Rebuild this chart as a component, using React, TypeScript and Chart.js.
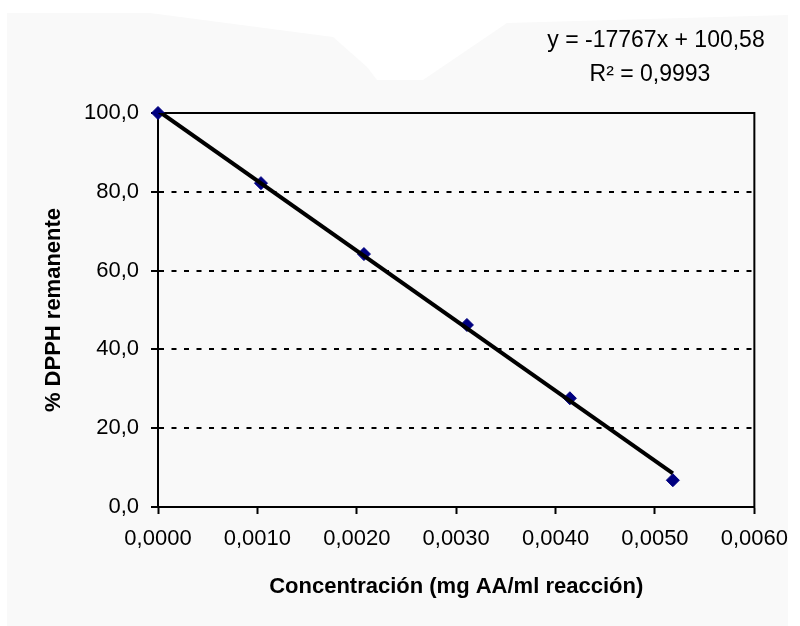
import { useEffect, useRef } from 'react';
import { Chart, registerables } from 'chart.js';

Chart.register(...registerables);

// Concentration of ascorbic acid (mg AA / ml reaction) and remaining DPPH (%)
const concentrations = [0, 0.001036, 0.002072, 0.003108, 0.004144, 0.00518];
const dpphRemaining = [100.0, 82.2, 64.2, 46.2, 27.6, 6.8];

// Linear fit reported on the chart
const fitSlope = -17767;
const fitIntercept = 100.58;
const fitLabels = ['y = -17767x + 100,58', 'R\u00b2 = 0,9993'];

// Axis ranges and steps
const xMin = 0;
const xMax = 0.006;
const xStep = 0.001;
const yMin = 0;
const yMax = 100;
const yStep = 20;

const xTitle = 'Concentración (mg AA/ml reacción)';
const yTitle = '% DPPH remanente';

const FONT = '"Liberation Sans", Arial, sans-serif';

const fitStart = concentrations[0];
const fitEnd = concentrations[concentrations.length - 1];
const fitPoints = [
  { x: fitStart, y: fitSlope * fitStart + fitIntercept },
  { x: fitEnd, y: fitSlope * fitEnd + fitIntercept },
];

const backgroundPlugin = {
  id: 'paperBackground',
  beforeDraw(chart: Chart) {
    const { ctx, width, height } = chart;
    ctx.save();
    ctx.fillStyle = '#ffffff';
    ctx.fillRect(0, 0, width, height);
    ctx.fillStyle = '#f9f9f9';
    ctx.beginPath();
    ctx.moveTo(7, 13);
    ctx.lineTo(150, 13);
    ctx.lineTo(333, 37);
    ctx.lineTo(367, 67);
    ctx.lineTo(377, 80);
    ctx.lineTo(423, 80);
    ctx.lineTo(507, 23);
    ctx.lineTo(788, 15);
    ctx.lineTo(788, height);
    ctx.lineTo(7, height);
    ctx.closePath();
    ctx.fill();
    ctx.restore();
  },
};

const frameAndTextPlugin = {
  id: 'frameAndText',
  beforeDatasetsDraw(chart: Chart) {
    const { ctx, chartArea } = chart;
    ctx.save();
    ctx.strokeStyle = '#000000';
    ctx.lineWidth = 2;
    ctx.strokeRect(
      chartArea.left,
      chartArea.top,
      chartArea.right - chartArea.left,
      chartArea.bottom - chartArea.top
    );
    ctx.restore();
  },
  afterDraw(chart: Chart) {
    const { ctx } = chart;
    ctx.save();
    ctx.fillStyle = '#000000';
    ctx.font = `23px ${FONT}`;
    ctx.textAlign = 'center';
    ctx.textBaseline = 'middle';
    ctx.fillText(fitLabels[0], 656, 41);
    ctx.fillText(fitLabels[1], 650, 75);
    ctx.restore();
  },
};

export default function App() {
  const canvasRef = useRef<HTMLCanvasElement | null>(null);

  useEffect(() => {
    const canvas = canvasRef.current;
    if (!canvas) return;

    const chart = new Chart(canvas, {
      type: 'scatter',
      data: {
        datasets: [
          {
            type: 'line',
            label: 'Lineal',
            data: fitPoints,
            borderColor: '#000000',
            borderWidth: 4,
            pointRadius: 0,
            fill: false,
            order: 0,
          },
          {
            label: '% DPPH',
            data: concentrations.map((c, i) => ({ x: c, y: dpphRemaining[i] })),
            pointStyle: 'rectRot',
            pointRadius: 6.5,
            backgroundColor: '#000080',
            borderColor: '#000080',
            borderWidth: 1,
            order: 1,
            clip: false,
          },
        ],
      },
      options: {
        responsive: false,
        animation: false,
        layout: { padding: { left: 0, right: 45, top: 113, bottom: 0 } },
        plugins: {
          legend: { display: false },
          tooltip: { enabled: false },
        },
        scales: {
          x: {
            type: 'linear',
            min: xMin,
            max: xMax,
            afterFit(scale: any) {
              scale.height = 119;
            },
            ticks: {
              stepSize: xStep,
              color: '#000000',
              padding: 12,
              maxRotation: 0,
              font: { family: FONT, size: 22 },
              callback: (v: any) => Number(v).toFixed(4).replace('.', ','),
            },
            grid: {
              drawOnChartArea: false,
              drawTicks: true,
              tickLength: 7,
              tickColor: '#000000',
              tickWidth: 2,
              color: '#000000',
            },
            border: { display: true, color: '#000000', width: 2 },
            title: {
              display: true,
              text: xTitle,
              color: '#000000',
              font: { family: FONT, size: 22, weight: 'bold' },
              padding: { top: 0, bottom: 26 },
            },
          },
          y: {
            type: 'linear',
            min: yMin,
            max: yMax,
            afterFit(scale: any) {
              scale.width = 158;
            },
            ticks: {
              stepSize: yStep,
              color: '#000000',
              padding: 12,
              font: { family: FONT, size: 22 },
              callback: (v: any) => Number(v).toFixed(1).replace('.', ','),
            },
            grid: {
              drawOnChartArea: true,
              drawTicks: true,
              tickLength: 7,
              tickColor: '#000000',
              tickWidth: 2,
              tickBorderDash: [],
              lineWidth: 2,
              color: (ctx: any) =>
                ctx.tick && (ctx.tick.value === yMin || ctx.tick.value === yMax)
                  ? 'rgba(0,0,0,0)'
                  : '#000000',
            },
            border: { display: true, color: '#000000', width: 2, dash: [5, 7.5] },
            title: {
              display: true,
              text: yTitle,
              color: '#000000',
              font: { family: FONT, size: 22, weight: 'bold' },
              padding: { top: 41, bottom: 0 },
            },
          },
        },
      },
      plugins: [backgroundPlugin, frameAndTextPlugin],
    });

    return () => {
      chart.destroy();
    };
  }, []);

  return (
    <div style={{ position: 'fixed', left: 0, top: 0, width: 800, height: 626 }}>
      <canvas ref={canvasRef} width={800} height={626} style={{ width: 800, height: 626, display: 'block' }} />
    </div>
  );
}
